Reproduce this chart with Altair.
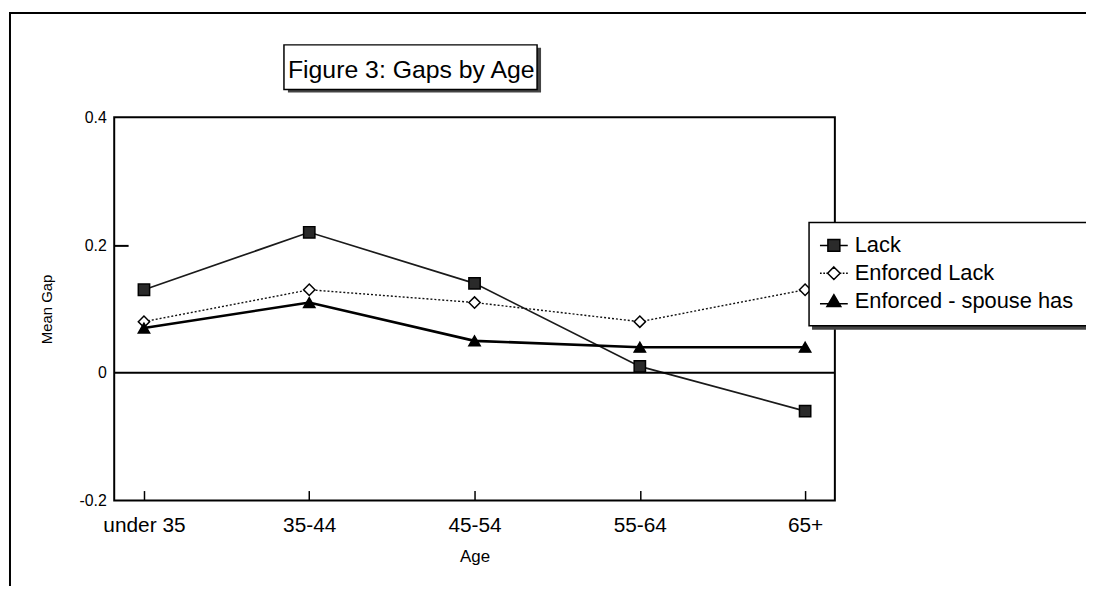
import altair as alt
import pandas as pd

ages = ["under 35", "35-44", "45-54", "55-64", "65+"]
series_names = ["Lack", "Enforced Lack", "Enforced - spouse has"]
lack = [0.13, 0.22, 0.14, 0.01, -0.06]
enforced_lack = [0.08, 0.13, 0.11, 0.08, 0.13]
enforced_spouse = [0.07, 0.11, 0.05, 0.04, 0.04]
y_ticks = [-0.2, 0, 0.2, 0.4]

rows = []
for name, vals in zip(series_names, [lack, enforced_lack, enforced_spouse]):
    for a, v in zip(ages, vals):
        rows.append({"age": a, "value": v, "series": name})
df = pd.DataFrame(rows)

FONT = "Liberation Sans"
one = alt.Data(values=[{}])

xscale = alt.Scale(type="point", padding=0.18)
yscale = alt.Scale(domain=[-0.2, 0.4], nice=False, zero=False)
fill_colors = ["#2a2a2a", "white", "black"]

# legend symbols: marker with line stubs (solid / dotted / thick)
legend_shapes = [
    "M-1,0H-0.43M0.43,0H1M-0.43,-0.43H0.43V0.43H-0.43Z",
    "M-1,0H-0.88M-0.76,0H-0.64M-0.54,0H-0.46M0.46,0H0.54M0.64,0H0.76M0.88,0H1M0,-0.45L0.45,0L0,0.45L-0.45,0Z",
    "M-1,0.2H-0.3M0.3,0.2H1M0,-0.45L0.5,0.4H-0.5Z",
]

base = alt.Chart(df)

x_main = alt.X("age:N", sort=ages, scale=xscale,
               axis=alt.Axis(title="Age", domain=False, ticks=False, grid=False,
                             labelAngle=0, labelFontSize=21, labelFont=FONT,
                             labelPadding=14, titleFontSize=17, titleFont=FONT,
                             titleFontWeight="normal", titlePadding=13, labelColor="black",
                             titleColor="black"))
y_main = alt.Y("value:Q", scale=yscale,
               axis=alt.Axis(title="Mean Gap", values=y_ticks, domain=False, ticks=False,
                             grid=False, labelFontSize=16, labelFont=FONT, labelPadding=8,
                             labelExpr="datum.value == 0 ? '0' : (datum.value < 0 ? '-' : '') + format(abs(datum.value), '.1f')",
                             titleFontSize=15, titleFont=FONT, titleFontWeight="normal",
                             titlePadding=25, labelColor="black", titleColor="black"))
x_none = alt.X("age:N", sort=ages, scale=xscale, axis=None)
y_none = alt.Y("value:Q", scale=yscale, axis=None)

line_lack = base.transform_filter(alt.datum.series == "Lack").mark_line(
    color="#1a1a1a", strokeWidth=1.7).encode(x=x_main, y=y_main)
line_enf = base.transform_filter(alt.datum.series == "Enforced Lack").mark_line(
    color="#111", strokeWidth=1.4, strokeDash=[2, 2]).encode(x=x_none, y=y_none)
line_sp = base.transform_filter(alt.datum.series == "Enforced - spouse has").mark_line(
    color="black", strokeWidth=2.6).encode(x=x_none, y=y_none)

points = base.mark_point(filled=True, stroke="black", strokeWidth=1.5, opacity=1).encode(
    x=alt.X("age:N", sort=ages, scale=xscale,
            axis=alt.Axis(orient="bottom", offset=-10, tickSize=10, labels=False, domain=False,
                          grid=False, title=None, tickColor="black", tickWidth=1.5)),
    y=alt.Y("value:Q", scale=yscale,
            axis=alt.Axis(orient="left", offset=-14, tickSize=14, values=[0.2], labels=False,
                          domain=False, grid=False, title=None, tickColor="black", tickWidth=2)),
    shape=alt.Shape("series:N", scale=alt.Scale(domain=series_names, range=["square", "diamond", "triangle-up"]),
                    legend=None),
    fill=alt.Fill("series:N", scale=alt.Scale(domain=series_names, range=fill_colors), legend=None),
    size=alt.value(130),
)

legend_layer = base.transform_filter("false").mark_point(
    filled=True, stroke="black", strokeWidth=1.5, opacity=1
).encode(
    shape=alt.Shape("series:N", scale=alt.Scale(domain=series_names, range=legend_shapes),
                    legend=alt.Legend(title=None, orient="none", legendX=700, legendY=104,
                                      padding=10, labelFontSize=22, labelFont=FONT,
                                      labelColor="black", labelLimit=400,
                                      symbolSize=784, rowPadding=2, labelOffset=6,
                                      symbolStrokeWidth=1.5, symbolOpacity=1, zindex=2)),
    fill=alt.Fill("series:N", scale=alt.Scale(domain=series_names, range=fill_colors),
                  legend=alt.Legend(title=None, orient="none", legendX=700, legendY=104, zindex=2)),
)

zero = alt.Chart(one).mark_rule(color="black", strokeWidth=2).encode(
    y=alt.YDatum(0, scale=yscale, axis=None)
)

frame = alt.Chart(one).mark_rect(fillOpacity=0, stroke="black", strokeWidth=2).encode(
    x=alt.value(-105), x2=alt.value(1000), y=alt.value(-105), y2=alt.value(505)
)
title_shadow = alt.Chart(one).mark_rect(fill="#444").encode(
    x=alt.value(175), x2=alt.value(430), y=alt.value(-70), y2=alt.value(-25)
)
title_box = alt.Chart(one).mark_rect(fill="white", stroke="black", strokeWidth=1.5).encode(
    x=alt.value(171), x2=alt.value(426), y=alt.value(-73), y2=alt.value(-28)
)
title_text = alt.Chart(one).mark_text(
    align="left", baseline="alphabetic", fontSize=25, font=FONT, color="black"
).encode(x=alt.value(175), y=alt.value(-40), text=alt.value("Figure 3: Gaps by Age"))
legend_shadow = alt.Chart(one).mark_rect(fill="#444").encode(
    x=alt.value(703), x2=alt.value(1000), y=alt.value(109), y2=alt.value(214)
)
legend_box = alt.Chart(one).mark_rect(fill="white", stroke="black", strokeWidth=1.5).encode(
    x=alt.value(700), x2=alt.value(1000), y=alt.value(106), y2=alt.value(210)
)

chart = alt.layer(
    frame, title_shadow, title_box, title_text,
    line_lack, line_enf, line_sp, zero, points,
    legend_shadow, legend_box, legend_layer
).resolve_axis(x="independent", y="independent").resolve_scale(
    shape="independent", fill="independent"
).properties(
    width=726, height=386,
    autosize=alt.AutoSizeParams(type="none"),
    padding={"left": 107, "top": 108, "right": 253, "bottom": 84},
).configure_view(stroke="black", strokeWidth=2)

chart.save("out.html", embed_options={"renderer": "svg", "actions": False})
